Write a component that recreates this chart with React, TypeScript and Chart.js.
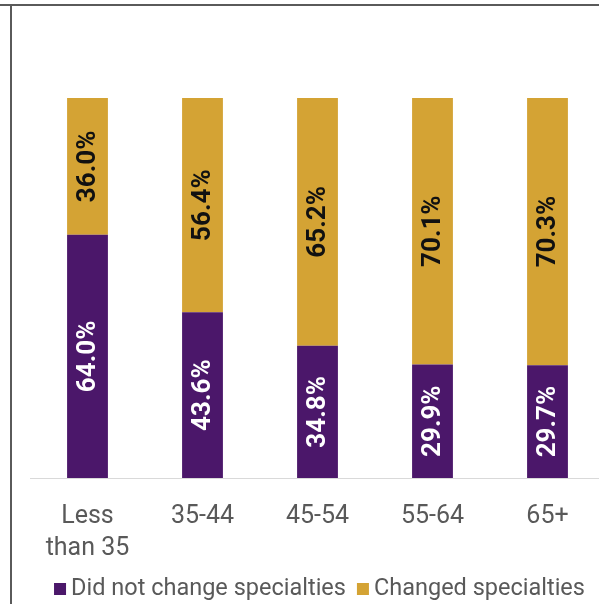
import React, { useEffect, useRef } from "react";
import { Chart, registerables } from "chart.js";

Chart.register(...registerables);

const categories: (string | string[])[] = [["Less", "than 35"], "35-44", "45-54", "55-64", "65+"];
const didNotChange = [64.0, 43.6, 34.8, 29.9, 29.7];
const changed = [36.0, 56.4, 65.2, 70.1, 70.3];
const seriesNames = ["Did not change specialties", "Changed specialties"];
const purple = "#4b176a";
const gold = "#d4a334";

const labelPlugin = {
  id: "barLabels",
  afterDatasetsDraw(chart: any) {
    const ctx = chart.ctx;
    chart.data.datasets.forEach((ds: any, di: number) => {
      const meta = chart.getDatasetMeta(di);
      meta.data.forEach((bar: any, i: number) => {
        const { x, y, base } = bar.getProps(["x", "y", "base"], true);
        const cy = (y + base) / 2;
        ctx.save();
        ctx.translate(x, cy);
        ctx.rotate(-Math.PI / 2);
        ctx.font = "bold 26px Roboto";
        ctx.fillStyle = di === 0 ? "#ffffff" : "#111111";
        ctx.textAlign = "center";
        ctx.textBaseline = "middle";
        ctx.fillText(ds.data[i].toFixed(1) + "%", 0, 1);
        ctx.restore();
      });
    });
  },
};

const legendPlugin = {
  id: "customLegend",
  afterDraw(chart: any) {
    const ctx = chart.ctx;
    const items = chart.data.datasets.map((ds: any) => ({ text: ds.label, color: ds.backgroundColor }));
    const box = 12;
    const gapBox = 5;
    const gapItem = 11;
    ctx.save();
    ctx.font = "23.5px Roboto";
    const widths = items.map((it: any) => box + gapBox + ctx.measureText(it.text).width);
    const total = widths.reduce((a: number, b: number) => a + b, 0) + gapItem * (items.length - 1);
    const center = (chart.chartArea.left + chart.chartArea.right) / 2 + 2;
    let x = center - total / 2;
    const baseline = 595;
    items.forEach((it: any, i: number) => {
      ctx.fillStyle = it.color;
      ctx.fillRect(x, baseline - box, box, box);
      ctx.fillStyle = "#595959";
      ctx.textAlign = "left";
      ctx.textBaseline = "alphabetic";
      ctx.fillText(it.text, x + box + gapBox, baseline);
      x += widths[i] + gapItem;
    });
    ctx.restore();
  },
};

const framePlugin = {
  id: "frame",
  afterDraw(chart: any) {
    const ctx = chart.ctx;
    ctx.save();
    ctx.fillStyle = "#5a5a5a";
    ctx.fillRect(0, 4, chart.width, 2);
    ctx.fillRect(10, 4, 2, chart.height);
    ctx.restore();
  },
};

export default function App() {
  const ref = useRef<HTMLCanvasElement>(null);
  useEffect(() => {
    if (!ref.current) return;
    const chart = new Chart(ref.current, {
      type: "bar",
      data: {
        labels: categories,
        datasets: [
          { label: seriesNames[0], data: didNotChange, backgroundColor: purple, barPercentage: 0.355, categoryPercentage: 1 },
          { label: seriesNames[1], data: changed, backgroundColor: gold, barPercentage: 0.355, categoryPercentage: 1 },
        ],
      },
      options: {
        responsive: false,
        animation: false,
        layout: { padding: { left: 30, right: 0, top: 98, bottom: 39 } },
        scales: {
          x: {
            stacked: true,
            grid: { display: false, drawTicks: false },
            border: { display: true, color: "#d9d9d9", width: 1 },
            ticks: { color: "#595959", font: { family: "Roboto", size: 25, lineHeight: 1.28 }, padding: 23, maxRotation: 0 },
            afterFit: (scale: any) => {
              scale.height = 87;
            },
          },
          y: { stacked: true, display: false, min: 0, max: 100 },
        },
        plugins: {
          legend: { display: false },
          tooltip: { enabled: false },
        },
      },
      plugins: [labelPlugin, legendPlugin, framePlugin],
    });
    return () => chart.destroy();
  }, []);
  return (
    <div style={{ position: "fixed", left: 0, top: 0, width: 599, height: 604, overflow: "hidden", background: "#fff" }}>
      <canvas ref={ref} width={605} height={604} style={{ display: "block" }} />
    </div>
  );
}
